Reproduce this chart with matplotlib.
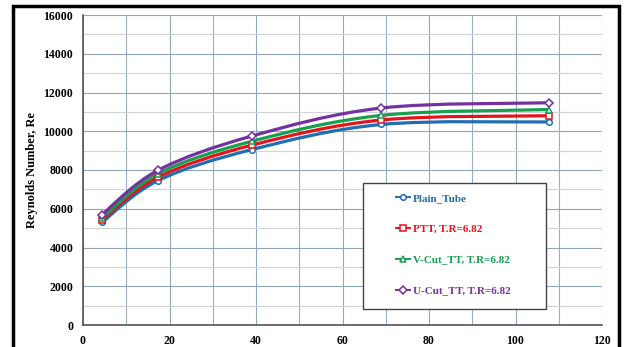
import matplotlib

matplotlib.use("Agg")
import matplotlib.pyplot as plt
import numpy as np
from matplotlib.patches import PathPatch, Rectangle
from matplotlib.path import Path

x = [4.4, 17.3, 39.0, 69.0, 107.7]
plain = [5300, 7450, 9050, 10350, 10480]
ptt = [5420, 7620, 9280, 10580, 10800]
vcut = [5520, 7800, 9480, 10820, 11120]
ucut = [5700, 7980, 9750, 11200, 11470]

labels = ["Plain_Tube", "PTT, T.R=6.82", "V-Cut_TT, T.R=6.82", "U-Cut_TT, T.R=6.82"]
colors = ["#1f6fb2", "#e3141c", "#17a050", "#7432a0"]
markers = ["o", "s", "^", "D"]
series = [plain, ptt, vcut, ucut]

plt.rcParams["font.family"] = ["Liberation Serif", "DejaVu Serif"]


def smooth_path(xs, ys):
    # Catmull-Rom style bezier, like Excel's smoothed line
    xs, ys = np.asarray(xs, float), np.asarray(ys, float)
    verts = [(xs[0], ys[0])]
    codes = [Path.MOVETO]
    n = len(xs)
    for i in range(n - 1):
        p0 = np.array([xs[max(i - 1, 0)], ys[max(i - 1, 0)]])
        p1 = np.array([xs[i], ys[i]])
        p2 = np.array([xs[i + 1], ys[i + 1]])
        p3 = np.array([xs[min(i + 2, n - 1)], ys[min(i + 2, n - 1)]])
        c1 = p1 + (p2 - p0) / 6.0
        c2 = p2 - (p3 - p1) / 6.0
        verts += [tuple(c1), tuple(c2), tuple(p2)]
        codes += [Path.CURVE4] * 3
    return Path(verts, codes)


fig = plt.figure(figsize=(6.25, 3.47), dpi=100, facecolor="white")
ax = fig.add_axes([83 / 625, 1 - 325 / 347, (602 - 83) / 625, (325 - 15) / 347])

ax.set_xlim(0, 120)
ax.set_ylim(0, 16000)
ax.set_xticks(np.arange(0, 121, 20))
ax.set_yticks(np.arange(0, 16001, 2000))
ax.set_xticks(np.arange(10, 120, 20), minor=True)
ax.set_yticks(np.arange(1000, 16000, 2000), minor=True)
ax.grid(which="major", color="#8ea7bd", lw=0.8)
ax.grid(which="minor", axis="x", color="#98b0c6", lw=0.8)
ax.grid(which="minor", axis="y", color="#d0d4d8", lw=0.8)
ax.set_axisbelow(True)
ax.tick_params(which="both", length=0, labelsize=8.5, pad=7)
for lab in ax.get_xticklabels() + ax.get_yticklabels():
    lab.set_fontweight("bold")
for s in ["top", "right"]:
    ax.spines[s].set_visible(False)
for s in ["left", "bottom"]:
    ax.spines[s].set_color("#555555")
    ax.spines[s].set_linewidth(1.2)

sizes = [4, 4, 4.2, 3.6]
for ys, c, m, ms, lab in zip(series, colors, markers, sizes, labels):
    ax.add_patch(PathPatch(smooth_path(x, ys), fill=False, edgecolor=c, lw=2.3, zorder=3))
    ax.plot(x, ys, ls="none", marker=m, ms=ms, mfc="white", mec=c, mew=1.1, zorder=4)
    ax.plot([], [], color=c, lw=1.4, marker=m, ms=ms, mfc="white", mec=c, mew=1.1,
            label=lab)

ax.set_ylabel("Reynolds Number, Re", fontsize=9, fontweight="bold", labelpad=4)

# legend box drawn separately so it can be wider than its text
box = Rectangle((363 / 625, 1 - 309 / 347), (546 - 363) / 625, (309 - 183) / 347,
                transform=fig.transFigure, facecolor="white", edgecolor="#444444",
                lw=1.0, zorder=5, clip_on=False)
ax.add_artist(box)
leg = ax.legend(loc="upper left", bbox_to_anchor=(396 / 625, 1 - 193 / 347),
                bbox_transform=fig.transFigure, frameon=False,
                labelspacing=1.9, handlelength=1.3, handletextpad=0.2,
                borderpad=0, borderaxespad=0, prop={"weight": "bold", "size": 8})
leg.set_zorder(6)
for txt, c in zip(leg.get_texts(), colors):
    txt.set_color(c)

fig.add_artist(Rectangle((13 / 625, -0.05), (619 - 13) / 625, 1 - 6 / 347 + 0.05,
                         transform=fig.transFigure, fill=False, edgecolor="black",
                         lw=2.5, zorder=10))

fig.savefig("out.png", dpi=100)
